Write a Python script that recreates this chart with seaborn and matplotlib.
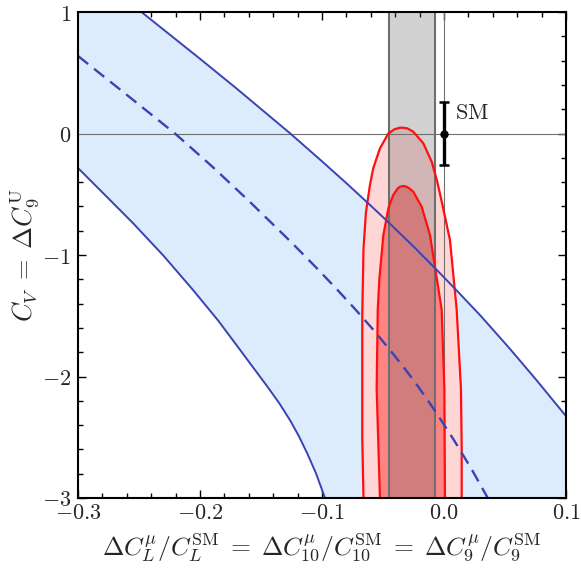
"""Constraint plot: C_V vs Delta C_L / C_L^SM with blue band, gray band and red fit contours"""

import matplotlib
matplotlib.use("Agg")
import matplotlib.pyplot as plt
import seaborn as sns
import numpy as np

# blue band: upper / lower solid boundaries and dashed central line
upper_x = [-0.3, -0.248, -0.2, -0.17, -0.126, -0.1, -0.08, -0.058, -0.045, -0.025,
           -0.0074, 0.0104, 0.03, 0.054, 0.075, 0.1]
upper_y = [1.40, 1.0, 0.615, 0.37, 0.0, -0.229, -0.409, -0.613, -0.736, -0.93,
           -1.108, -1.292, -1.50, -1.772, -2.02, -2.326]
lower_x = [-0.3, -0.278, -0.2547, -0.23, -0.2057, -0.185, -0.165, -0.145, -0.135,
           -0.1262, -0.119, -0.112, -0.105, -0.099, -0.0965]
lower_y = [-0.284, -0.505, -0.74, -1.005, -1.288, -1.541, -1.81, -2.08, -2.22,
           -2.36, -2.49, -2.635, -2.795, -2.96, -3.03]
central_x = [-0.3, -0.26, -0.2205, -0.19, -0.16, -0.126, -0.105, -0.088, -0.0729, -0.06,
             -0.045, -0.033, -0.021, -0.0074, 0.008, 0.0227, 0.037]
central_y = [0.638, 0.318, 0.0, -0.272, -0.554, -0.887, -1.101, -1.28, -1.445, -1.592,
             -1.772, -1.924, -2.085, -2.282, -2.521, -2.764, -3.02]

# gray vertical band
band_lo, band_hi = -0.045, -0.0075

# red fit contours (outer and inner), traced around the top
outer_x = [-0.066, -0.066, -0.067, -0.067, -0.067, -0.066, -0.064, -0.0607, -0.058,
           -0.0525, -0.0456, -0.0405, -0.0361, -0.033, -0.030, -0.0252, -0.017, -0.0101,
           -0.0055, -0.001, 0.0049, 0.0104, 0.0139, 0.0145, 0.0145, 0.0145]
outer_y = [-3.1, -3.0, -2.5, -2.0, -1.5, -0.95, -0.65, -0.424, -0.286,
           -0.122, 0.0, 0.035, 0.048, 0.047, 0.042, 0.015, -0.08, -0.232,
           -0.397, -0.6, -0.877, -1.45, -2.1, -2.6, -3.0, -3.1]
inner_x = [-0.0525, -0.0525, -0.0552, -0.0543, -0.053, -0.0497, -0.0456, -0.0416,
           -0.038, -0.036, -0.0333, -0.031, -0.029, -0.0252, -0.0183, -0.0115, -0.0019,
           0.0003, 0.0008, 0.0008]
inner_y = [-3.1, -3.0, -2.1, -1.45, -1.2, -0.835, -0.616, -0.506,
           -0.452, -0.438, -0.432, -0.437, -0.447, -0.479, -0.602, -0.835, -1.45,
           -2.1, -3.0, -3.1]

# SM point
sm_x, sm_y, sm_err = 0.0, 0.0, 0.26

xticks = [-0.3, -0.2, -0.1, 0.0, 0.1]
xticklabels = ["$-0.3$", "$-0.2$", "$-0.1$", "$0.0$", "$0.1$"]
yticks = [-3, -2, -1, 0, 1]
yticklabels = ["$-3$", "$-2$", "$-1$", "$0$", "$1$"]

sns.set_theme(style="ticks")
plt.rcParams["mathtext.fontset"] = "cm"
plt.rcParams["font.family"] = ["DejaVu Serif"]

blue_line = "#3a43b4"
blue_fill = "#dcecfd"
red = "#ff1010"

fig = plt.figure(figsize=(5.81, 5.74), dpi=100)
ax = fig.add_axes([78 / 581, 1 - 498 / 574, 488 / 581, 486 / 574])

# blue band fill
poly_x = upper_x + [upper_x[-1], lower_x[-1]] + lower_x[::-1]
poly_y = upper_y + [lower_y[-1], lower_y[-1]] + lower_y[::-1]
ax.fill(poly_x, poly_y, color=blue_fill, lw=0, zorder=1)

# red regions
ax.fill(outer_x, outer_y, color="#ffd6d6", lw=0, zorder=2)
ax.fill(inner_x, inner_y, color="#ff8585", lw=0, zorder=3)

# gray band
ax.axvspan(band_lo, band_hi, color="#6c6c6c", alpha=0.3, lw=0, zorder=4)
for xb in (band_lo, band_hi):
    ax.axvline(xb, color="#6e6e6e", lw=1.5, zorder=5)

# thin reference lines
ax.axhline(0, color="#707070", lw=0.8, zorder=5)
ax.axvline(0, color="#707070", lw=0.8, zorder=5)

# red contour lines
sns.lineplot(x=outer_x, y=outer_y, sort=False, estimator=None, color=red, lw=1.6, ax=ax, zorder=6)
sns.lineplot(x=inner_x, y=inner_y, sort=False, estimator=None, color=red, lw=1.6, ax=ax, zorder=6)

# blue lines
sns.lineplot(x=upper_x, y=upper_y, sort=False, estimator=None, color=blue_line, lw=1.4, ax=ax, zorder=7)
sns.lineplot(x=lower_x, y=lower_y, sort=False, estimator=None, color=blue_line, lw=1.4, ax=ax, zorder=7)
sns.lineplot(x=central_x, y=central_y, sort=False, estimator=None, color=blue_line, lw=1.7,
             ax=ax, zorder=7)
ax.lines[-1].set_dashes((5.5, 3.2))

# SM point
ax.errorbar(sm_x, sm_y, yerr=sm_err, fmt="o", color="black", ms=5, lw=2.4,
            capsize=3.8, capthick=1.8, zorder=8)
ax.text(sm_x + 0.009, sm_y + 0.17, r"$\mathrm{SM}$", fontsize=16, ha="left", va="center", zorder=8)

ax.set_xlim(-0.3, 0.1)
ax.set_ylim(-3, 1)
ax.set_xticks(xticks)
ax.set_xticklabels(xticklabels)
ax.set_yticks(yticks)
ax.set_yticklabels(yticklabels)
ax.set_xticks(np.arange(-0.3, 0.1001, 0.02), minor=True)
ax.set_yticks(np.arange(-3, 1.001, 0.2), minor=True)
ax.tick_params(which="both", direction="in", top=True, right=True, color="black", width=1.0)
ax.tick_params(which="major", length=6, labelsize=16)
ax.tick_params(axis="x", which="major", pad=3)
ax.tick_params(axis="y", which="major", pad=5)
ax.tick_params(which="minor", length=3.5)
for sp in ax.spines.values():
    sp.set_linewidth(1.5)
    sp.set_color("black")
    sp.set_zorder(10)

ax.set_xlabel(r"$\Delta C_L^\mu/C_L^{\rm SM} \;=\; \Delta C_{10}^\mu/C_{10}^{\rm SM} \;=\; \Delta C_9^\mu/C_9^{\rm SM}$",
              fontsize=18.5, va="center")
ax.set_ylabel(r"$C_V \;=\; \Delta C_9^{\rm U}$", fontsize=19, va="center")
ax.xaxis.set_label_coords(0.5, -0.101)
ax.yaxis.set_label_coords(-0.11, 0.5)

fig.savefig("out.png", dpi=100)
plt.close(fig)
